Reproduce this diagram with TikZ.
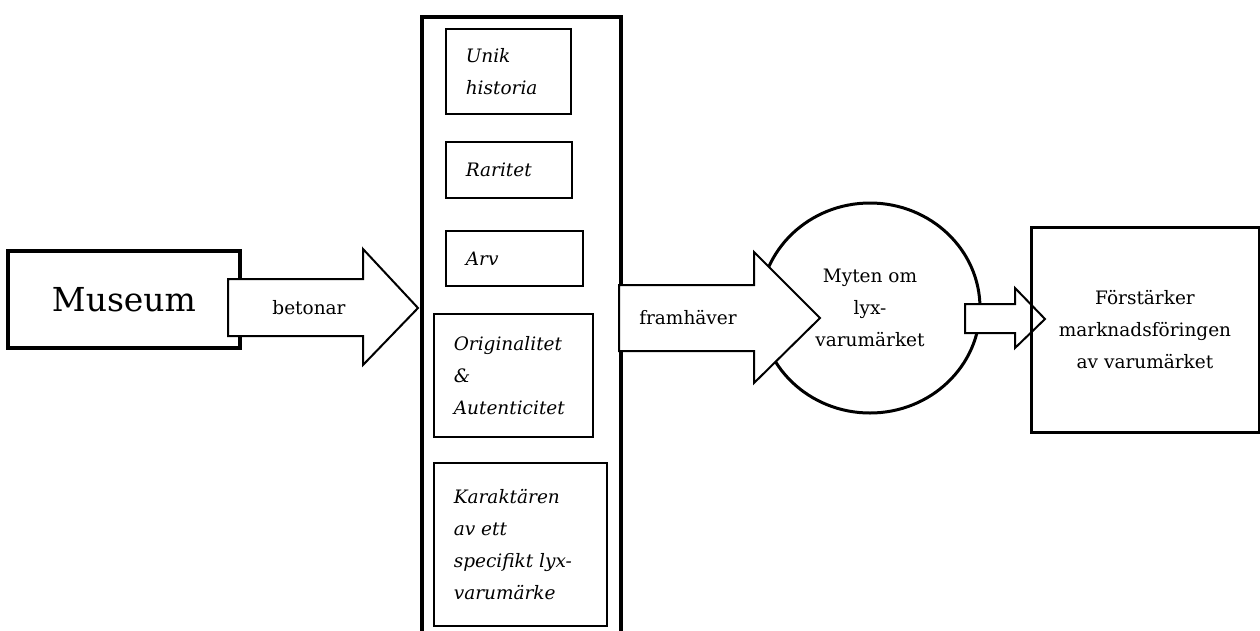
\documentclass[tikz,border=0pt]{standalone}
\usepackage{fontspec}
\setmainfont{DejaVu Serif}
\usetikzlibrary{shapes.geometric}
\begin{document}
\begin{tikzpicture}[x=1pt,y=-1pt,
  thickbox/.style={draw, line width=3.5pt, fill=white, inner sep=0pt},
  itembox/.style={draw, line width=1.6pt, fill=white, inner xsep=20pt, inner ysep=0pt,
    align=flush left, anchor=north west, font=\itshape\fontsize{18.5}{32}\selectfont},
  blockarrow/.style={draw, line width=2pt, fill=white, line join=miter},
  txt/.style={font=\fontsize{18.5}{32}\selectfont, align=center, inner sep=0pt}
]
\clip (0,0) rectangle (1260,630);
\fill[white] (0,0) rectangle (1260,630);

% source box
\node[thickbox, minimum width=232pt, minimum height=97pt,
      font=\fontsize{33}{40}\selectfont] (museum) at (124,299.5) {Museum};

% column of emphasised qualities
\node[thickbox, anchor=north west, minimum width=199pt, minimum height=640pt] (col) at (420,15) {};
\node[itembox, text width=85pt, minimum height=85pt] (unik) at (445,28) {Unik\\historia};
\node[itembox, text width=86pt, minimum height=56pt] (rar) at (445,141) {Raritet};
\node[itembox, text width=97pt, minimum height=55pt] (arv) at (445,230) {Arv};
\node[itembox, text width=119pt, minimum height=123pt] (orig) at (433,313) {Originalitet\\\&\\Autenticitet};
\node[itembox, text width=133pt, minimum height=163pt] (kar) at (433,462) {Karaktären\\av ett\\specifikt lyx-\\varumärke};

% museum -> column
\draw[blockarrow] (228,279) -- (363,279) -- (363,249) -- (418,308) -- (363,365) -- (363,336) -- (228,336) -- cycle;
\node[txt] (betonar) at (309,308) {betonar};

% myth ellipse
\node[draw, ellipse, line width=3pt, fill=white, minimum width=220pt, minimum height=210pt,
      inner sep=0pt, txt] (myth) at (870,308) {Myten om\\lyx-\\varumärket};

% column -> myth
\draw[blockarrow] (619,285) -- (754,285) -- (754,252) -- (820,318) -- (754,383) -- (754,351) -- (619,351) -- cycle;
\node[txt] (framh) at (688,318) {framhäver};

% myth -> outcome
\draw[blockarrow] (965,304) -- (1015,304) -- (1015,288) -- (1045,319) -- (1015,348) -- (1015,333) -- (965,333) -- cycle;

% outcome box
\node[draw, line width=3pt, minimum width=228pt, minimum height=205pt, txt] (brand) at (1145,329.5)
  {Förstärker\\marknadsföringen\\av varumärket};
\end{tikzpicture}
\end{document}
